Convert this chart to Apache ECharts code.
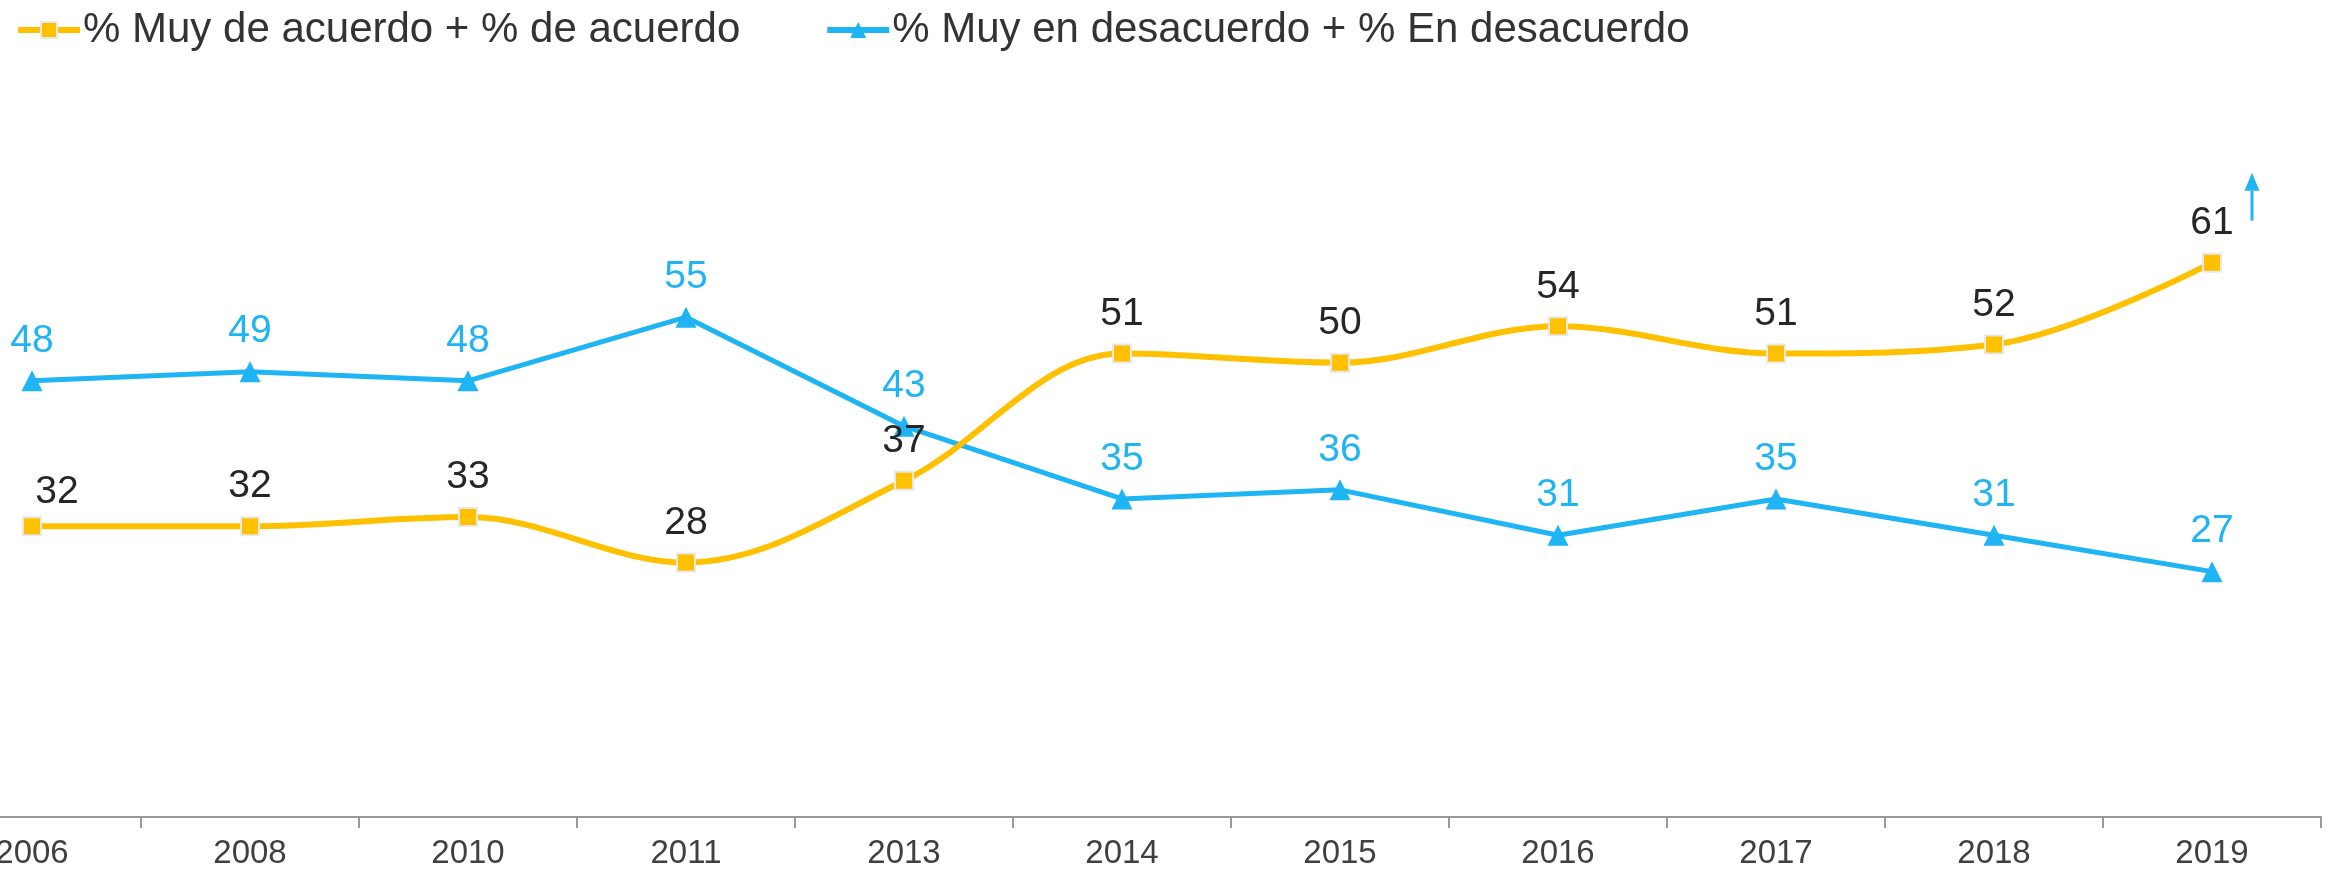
<!DOCTYPE html>
<html>
<head>
<meta charset="utf-8">
<script src="https://cdn.jsdelivr.net/npm/echarts@6/dist/echarts.min.js"></script>
<style>
  html, body { margin: 0; padding: 0; background: #fff; }
  #chart { width: 2335px; height: 875px; }
</style>
</head>
<body>
<div id="chart"></div>
<script>
var years = ['2006', '2008', '2010', '2011', '2013', '2014', '2015', '2016', '2017', '2018', '2019'];
var acuerdo = [32, 32, 33, 28, 37, 51, 50, 54, 51, 52, 61];
var desacuerdo = [48, 49, 48, 55, 43, 35, 36, 31, 35, 31, 27];
var seriesNames = ['% Muy de acuerdo + % de acuerdo', '% Muy en desacuerdo + % En desacuerdo'];

var orange = '#FFC000';
var blue = '#1FB4F4';
var fontName = '"Liberation Sans", Arial, sans-serif';

var myChart = echarts.init(document.getElementById('chart'));

// la primera etiqueta naranja va corrida a la derecha en el original
var acuerdoData = acuerdo.map(function (v, i) {
  if (i === 0) {
    return { value: v, label: { offset: [25, 6] } };
  }
  return v;
});

var option = {
  animation: false,
  textStyle: { fontFamily: fontName },
  legend: {
    left: 10,
    top: 4,
    itemWidth: 62,
    itemHeight: 20,
    itemGap: 84,
    textStyle: { fontSize: 42, color: '#333333', fontFamily: fontName, padding: [0, 0, 0, -2] },
    data: [
      { name: seriesNames[0], lineStyle: { width: 6, color: orange } },
      { name: seriesNames[1], lineStyle: { width: 6, color: blue } }
    ]
  },
  grid: {
    left: -77,
    right: 14,
    top: 90,
    bottom: 58,
    outerBoundsMode: 'none'
  },
  xAxis: {
    type: 'category',
    data: years,
    boundaryGap: true,
    axisLine: { lineStyle: { color: '#999999', width: 2 } },
    axisTick: { show: true, length: 11, lineStyle: { color: '#999999', width: 2 } },
    axisLabel: { fontSize: 33, color: '#404040', margin: 20, fontFamily: fontName }
  },
  yAxis: {
    type: 'value',
    min: 0,
    max: 80,
    show: false,
    splitLine: { show: false }
  },
  series: [
    {
      name: seriesNames[0],
      type: 'line',
      data: acuerdoData,
      smooth: 0.35,
      symbol: 'rect',
      symbolSize: 18,
      lineStyle: { color: orange, width: 6 },
      itemStyle: { color: orange, borderColor: '#E8E8E8', borderWidth: 2 },
      label: {
        show: true,
        position: 'top',
        distance: 10,
        fontSize: 39,
        color: '#262626',
        fontFamily: fontName
      },
      z: 3
    },
    {
      name: seriesNames[1],
      type: 'line',
      data: desacuerdo,
      symbol: 'triangle',
      symbolSize: 21,
      lineStyle: { color: blue, width: 5 },
      itemStyle: { color: blue },
      label: {
        show: true,
        position: 'top',
        distance: 10,
        fontSize: 39,
        color: blue,
        fontFamily: fontName
      },
      z: 2
    }
  ]
};

myChart.setOption(option);

// flecha de tendencia junto al último valor
var last = myChart.convertToPixel({ seriesIndex: 0 }, [years[years.length - 1], acuerdo[acuerdo.length - 1]]);
var ax = last[0] + 40;
var ay = last[1] - 42;
myChart.setOption({
  graphic: [
    {
      type: 'line',
      shape: { x1: ax, y1: ay, x2: ax, y2: ay - 30 },
      style: { stroke: blue, lineWidth: 3 }
    },
    {
      type: 'polygon',
      shape: { points: [[ax - 7.5, ay - 30], [ax + 7.5, ay - 30], [ax, ay - 48]] },
      style: { fill: blue }
    }
  ]
});
</script>
</body>
</html>
